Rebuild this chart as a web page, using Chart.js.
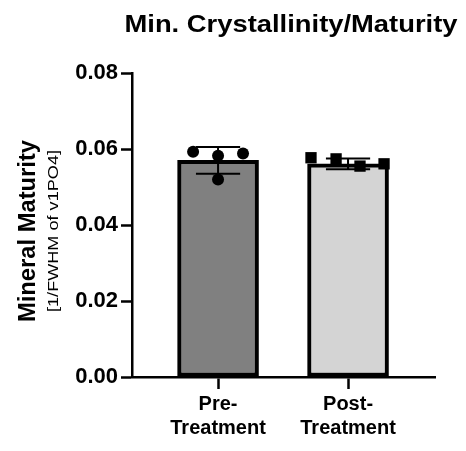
<!DOCTYPE html>
<html>
<head>
<meta charset="utf-8">
<script src="https://cdn.jsdelivr.net/npm/chart.js@4.4.1/dist/chart.umd.min.js"></script>
<style>
  html, body { margin: 0; padding: 0; background: #ffffff; }
  #wrap { width: 466px; height: 451px; position: relative; }
</style>
</head>
<body>
<div id="wrap"><canvas id="chart"></canvas></div>
<script>
// Groups and their tick labels
const groups = ['Pre-Treatment', 'Post-Treatment'];
const groupLabels = [['Pre-', 'Treatment'], ['Post-', 'Treatment']];

// Group means and standard deviations (1/FWHM of v1PO4)
const groupMeans = [0.0570, 0.0561];
const groupSD = [0.0035, 0.0014];

// Individual measurements per group
const preValues = [0.0593, 0.0582, 0.0588, 0.0520];
const postValues = [0.0577, 0.0574, 0.0555, 0.0561];

// Horizontal spread of the dots around each group centre (in group units)
const preSpread = [-0.192, 0.0, 0.192, 0.0];
const postSpread = [-0.285, -0.092, 0.092, 0.277];

// Y axis ticks
const yTicks = [0.00, 0.02, 0.04, 0.06, 0.08];

const FONT = '"Liberation Sans", Arial, Helvetica, sans-serif';

// Mean +/- SD whiskers, drawn right after the bars
const errorBars = {
  id: 'errorBars',
  afterDatasetDraw(chart, args) {
    if (args.index !== 0) return;
    const { ctx, scales: { x, y } } = chart;
    ctx.save();
    ctx.strokeStyle = '#000';
    ctx.lineWidth = 2;
    groupMeans.forEach((m, i) => {
      const cx = x.getPixelForValue(i + 1);
      const half = (x.getPixelForValue(1.17) - x.getPixelForValue(1));
      const yHi = y.getPixelForValue(m + groupSD[i]);
      const yLo = y.getPixelForValue(m - groupSD[i]);
      ctx.beginPath();
      ctx.moveTo(cx, yHi); ctx.lineTo(cx, yLo);
      ctx.moveTo(cx - half, yHi); ctx.lineTo(cx + half, yHi);
      ctx.moveTo(cx - half, yLo); ctx.lineTo(cx + half, yLo);
      ctx.stroke();
    });
    ctx.restore();
  }
};

// Draws text stretched along its baseline to a given length
function stretchedText(ctx, text, len) {
  const w = ctx.measureText(text).width;
  ctx.save();
  ctx.scale(len / w, 1);
  ctx.fillText(text, 0, 0);
  ctx.restore();
}

// Chart title and two-line y axis title
const titles = {
  id: 'titles',
  afterDraw(chart) {
    const { ctx } = chart;
    ctx.save();
    ctx.fillStyle = '#000';
    ctx.textAlign = 'center';
    ctx.textBaseline = 'alphabetic';
    ctx.font = 'bold 24px ' + FONT;
    ctx.translate(291, 32);
    stretchedText(ctx, 'Min. Crystallinity/Maturity', 333);
    ctx.restore();

    ctx.save();
    ctx.fillStyle = '#000';
    ctx.textAlign = 'center';
    ctx.textBaseline = 'alphabetic';
    ctx.translate(35, 231);
    ctx.rotate(-Math.PI / 2);
    ctx.font = 'bold 23px ' + FONT;
    stretchedText(ctx, 'Mineral Maturity', 182);
    ctx.translate(0, 23);
    ctx.font = '14px ' + FONT;
    stretchedText(ctx, '[1/FWHM of v1PO4]', 162);
    ctx.restore();
  }
};

new Chart(document.getElementById('chart'), {
  type: 'bar',
  data: {
    datasets: [
      {
        type: 'bar',
        label: 'Mean',
        data: groupMeans.map((m, i) => ({ x: i + 1, y: m })),
        backgroundColor: ['#808080', '#d4d4d4'],
        borderColor: '#000',
        borderWidth: 4,
        borderSkipped: false,
        barThickness: 81,
        order: 2
      },
      {
        type: 'scatter',
        label: groups[0],
        data: preValues.map((v, k) => ({ x: 1 + preSpread[k], y: v })),
        pointStyle: 'circle',
        pointRadius: 6,
        backgroundColor: '#000',
        borderColor: '#000',
        borderWidth: 0,
        order: 1
      },
      {
        type: 'scatter',
        label: groups[1],
        data: postValues.map((v, k) => ({ x: 2 + postSpread[k], y: v })),
        pointStyle: 'rect',
        pointRadius: 8,
        backgroundColor: '#000',
        borderColor: '#000',
        borderWidth: 0,
        order: 1
      }
    ]
  },
  options: {
    responsive: true,
    maintainAspectRatio: false,
    animation: false,
    layout: { padding: { top: 73, right: 31, bottom: 0, left: 0 } },
    plugins: {
      legend: { display: false },
      tooltip: { enabled: false },
      title: { display: false }
    },
    scales: {
      x: {
        type: 'linear',
        position: 'bottom',
        offset: false,
        min: 0.338,
        max: 2.669,
        afterBuildTicks: (s) => { s.ticks = groups.map((g, i) => ({ value: i + 1 })); },
        afterFit: (s) => { s.height = 74; },
        ticks: {
          autoSkip: false,
          maxRotation: 0,
          padding: 3,
          color: '#000',
          font: { family: FONT, size: 20, weight: 'bold', lineHeight: 1.2 },
          callback: (v) => groupLabels[Math.round(v) - 1]
        },
        grid: { offset: false, drawOnChartArea: false, drawTicks: true, tickLength: 12, tickWidth: 2.5, tickColor: '#000' },
        border: { display: true, color: '#000', width: 2.5 }
      },
      y: {
        type: 'linear',
        min: 0,
        max: 0.08,
        afterBuildTicks: (s) => { s.ticks = yTicks.map(v => ({ value: v })); },
        afterFit: (s) => { s.width = 132; },
        ticks: {
          padding: 3,
          color: '#000',
          font: { family: FONT, size: 22, weight: 'bold' },
          callback: (v) => v.toFixed(2)
        },
        grid: { drawOnChartArea: false, drawTicks: true, tickLength: 11, tickWidth: 2.5, tickColor: '#000' },
        border: { display: true, color: '#000', width: 2.5 }
      }
    }
  },
  plugins: [errorBars, titles]
});
</script>
</body>
</html>
